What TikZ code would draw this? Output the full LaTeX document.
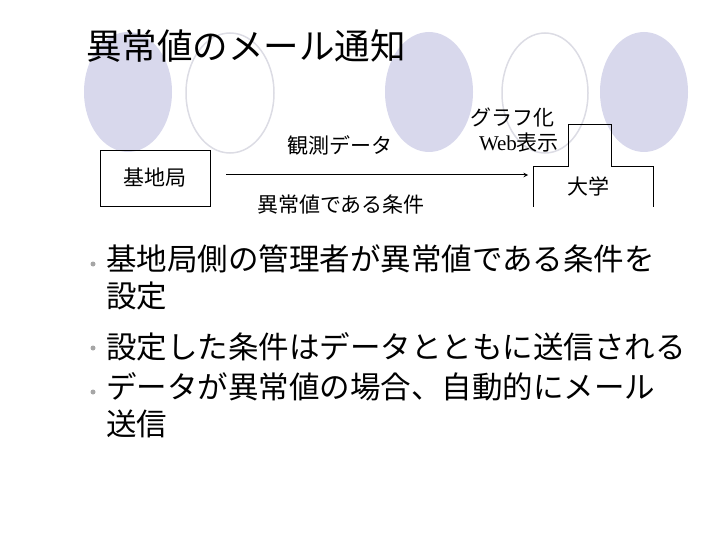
\documentclass[tikz,border=0pt]{standalone}
\usepackage{fontspec}
\setmainfont{Noto Sans CJK JP}
\newfontfamily\wfont{Liberation Serif}
\definecolor{lav}{RGB}{216,216,236}
\definecolor{lavline}{RGB}{220,220,228}
\begin{document}
\begin{tikzpicture}[x=1pt,y=-1pt,
  fill ell/.style={fill=lav},
  line ell/.style={draw=lavline,line width=1.5pt},
  lbl/.style={font=\fontsize{21}{24}\selectfont,inner sep=0},
  bul/.style={font=\fontsize{30.5}{37}\selectfont,anchor=north west,inner sep=0,align=left},
  dot/.style={circle,fill=gray!70,inner sep=0,minimum size=5pt}]
\useasboundingbox (0,0) rectangle (720,540);
\fill[fill ell] (128,92) ellipse (44 and 60);
\draw[line ell] (230,93) ellipse (44 and 60);
\fill[fill ell] (429,92) ellipse (44 and 60);
\draw[line ell] (545,93) ellipse (43 and 60);
\fill[fill ell] (644,92) ellipse (44 and 60);
\node[anchor=west,inner sep=0,font=\fontsize{35.5}{40}\selectfont] (title) at (86,46) {異常値のメール通知};
\node[draw,line width=0.6pt,minimum width=110pt,minimum height=56pt,lbl] (kichi) at (155,178) {基地局};
\draw[line width=0.6pt] (533,207) |- (568,166) |- (611,124) |- (653,166) -- (653,207);
\node[lbl] (daigaku) at (588,186) {大学};
\coordinate (arrs) at (226,175);
\coordinate (arre) at (528,175);
\draw[-stealth,line width=1pt] (arrs) -- (arre);
\node[lbl] (kan) at (340,145) {観測データ};
\node[lbl] (ijo) at (341,205) {異常値である条件};
\node[lbl] (graph) at (512,117) {グラフ化};
\node[lbl] (web) at (519,143) {{\wfont Web}表示};
\node[dot] (b1) at (93,264) {};
\node[dot] (b2) at (93,348) {};
\node[dot] (b3) at (93,392) {};
\node[bul] (t1) at (106,244) {基地局側の管理者が異常値である条件を\\設定};
\node[bul,anchor=west] (t2) at (106,347) {設定した条件はデータとともに送信される};
\node[bul] (t3) at (106,372) {データが異常値の場合、自動的にメール\\送信};
\end{tikzpicture}
\end{document}
